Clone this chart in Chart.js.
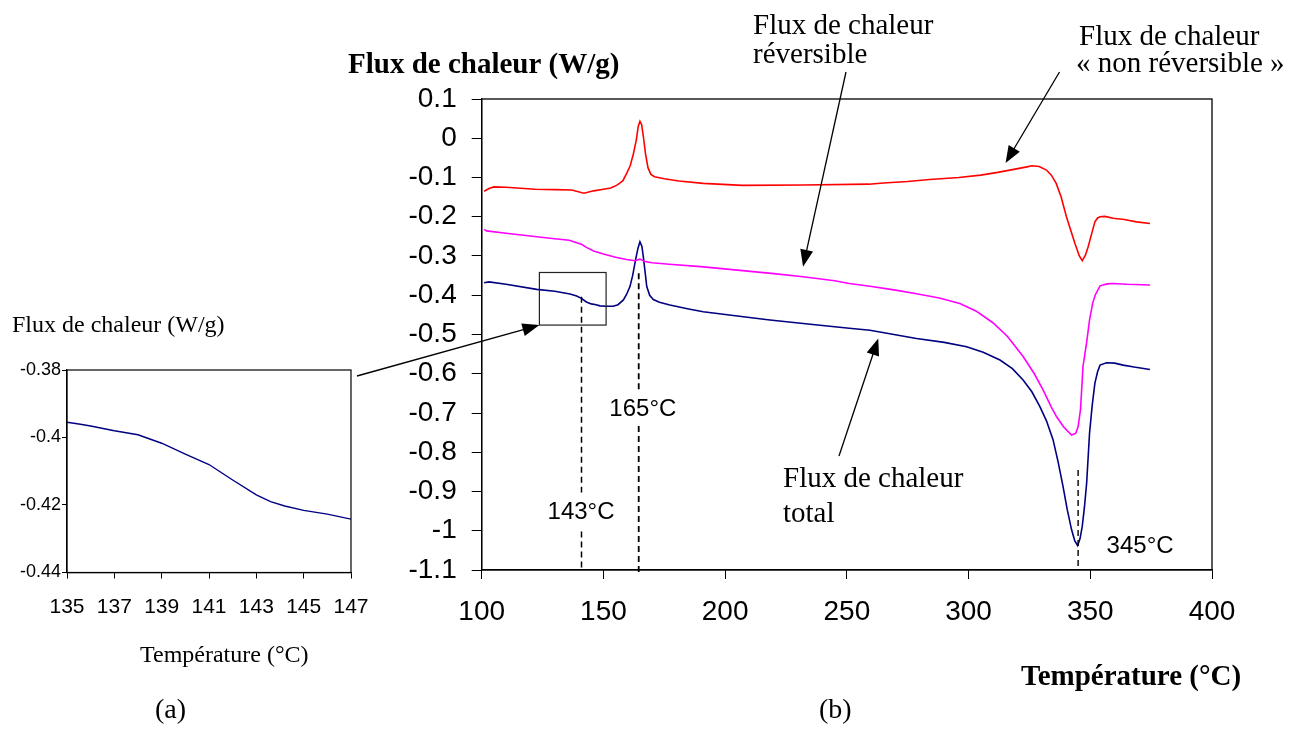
<!DOCTYPE html>
<html>
<head>
<meta charset="utf-8">
<script src="https://cdn.jsdelivr.net/npm/chart.js@4.4.0/dist/chart.umd.min.js"></script>
<style>
  html, body { margin: 0; padding: 0; background: #fff; }
  #wrap { position: relative; width: 1306px; height: 731px; }
  #wrap canvas { position: absolute; left: 0; top: 0; }
</style>
</head>
<body>
<div id="wrap">
  <canvas id="mainChart" width="1306" height="731"></canvas>
  <canvas id="insetChart" width="1306" height="731"></canvas>
</div>
<script>
// flux "non réversible" (rouge)
const nonRevT = [101, 103, 105, 110, 122, 130, 137, 142, 146, 150, 153, 155.4, 157, 158, 159.5, 161, 162.3, 163.5, 164.3, 165, 165.7, 166.5, 167.3, 168.3, 169.5, 171, 175, 181, 191, 207, 232, 259, 265, 275, 284, 296, 305, 312, 318, 324, 326, 329, 332, 334, 336, 338, 340.2, 342, 343.7, 345.5, 346.7, 348, 349.1, 350.5, 351.9, 353, 354, 356, 359.4, 364, 369, 374.5];
const nonRevF = [-0.135, -0.128, -0.124, -0.125, -0.130, -0.131, -0.132, -0.140, -0.134, -0.130, -0.127, -0.120, -0.113, -0.108, -0.090, -0.070, -0.040, -0.005, 0.030, 0.043, 0.035, 0.000, -0.040, -0.075, -0.092, -0.098, -0.103, -0.109, -0.115, -0.120, -0.119, -0.117, -0.114, -0.110, -0.105, -0.100, -0.094, -0.087, -0.080, -0.073, -0.070, -0.072, -0.081, -0.094, -0.115, -0.149, -0.200, -0.235, -0.268, -0.300, -0.312, -0.298, -0.277, -0.245, -0.213, -0.203, -0.200, -0.199, -0.204, -0.207, -0.213, -0.217];

// flux réversible (magenta)
const revT = [101, 102, 110, 122.6, 130, 136, 139, 141, 143, 146, 150, 155, 159.5, 163, 165, 167, 170, 177, 190, 205, 220, 232, 245, 251, 259.5, 270, 278.6, 288, 296.4, 303, 310, 316, 322.4, 327, 330.6, 334, 336.1, 339, 342.3, 344, 345, 346, 347, 348.5, 349.7, 351, 352, 354, 357, 359.4, 365, 374.5];
const revF = [-0.232, -0.236, -0.242, -0.251, -0.256, -0.260, -0.266, -0.270, -0.278, -0.287, -0.295, -0.303, -0.309, -0.312, -0.308, -0.314, -0.317, -0.321, -0.327, -0.336, -0.345, -0.353, -0.363, -0.370, -0.377, -0.387, -0.396, -0.407, -0.421, -0.440, -0.470, -0.505, -0.556, -0.600, -0.641, -0.685, -0.709, -0.735, -0.756, -0.752, -0.735, -0.690, -0.582, -0.520, -0.463, -0.420, -0.400, -0.376, -0.371, -0.370, -0.372, -0.374];

// flux total (bleu)
const totT = [101, 103, 110, 122.6, 130, 136.3, 139, 141, 143, 145, 147, 148.6, 151, 154, 156, 158.2, 159.5, 160.9, 162, 163.2, 164.2, 165, 165.8, 166.4, 167.2, 167.8, 169, 170.5, 173, 177.3, 185, 191, 205, 218.4, 235, 251, 259.5, 278.6, 290, 299.2, 306, 312.9, 318, 322.4, 326, 329.3, 332, 334.7, 336.8, 338.8, 340.5, 342.3, 343.6, 344.8, 345.8, 346.7, 347.6, 348.5, 349.7, 350.8, 351.9, 353, 354, 356.7, 360, 363.5, 368, 374.5];
const totF = [-0.368, -0.366, -0.372, -0.385, -0.390, -0.397, -0.402, -0.408, -0.417, -0.422, -0.424, -0.427, -0.428, -0.428, -0.424, -0.412, -0.398, -0.378, -0.350, -0.310, -0.280, -0.264, -0.275, -0.302, -0.345, -0.378, -0.400, -0.411, -0.418, -0.425, -0.435, -0.442, -0.453, -0.463, -0.474, -0.484, -0.489, -0.510, -0.520, -0.531, -0.545, -0.565, -0.587, -0.616, -0.646, -0.684, -0.720, -0.768, -0.825, -0.887, -0.945, -0.997, -1.025, -1.038, -1.020, -0.989, -0.940, -0.879, -0.751, -0.680, -0.624, -0.595, -0.578, -0.572, -0.573, -0.578, -0.583, -0.589];

// agrandissement (a)
const insetT = [135, 135.5, 136, 137, 138, 139, 140, 141, 142, 143, 143.6, 144.2, 145, 146, 147];
const insetF = [-0.3955, -0.396, -0.3966, -0.398, -0.3992, -0.4017, -0.4049, -0.408, -0.4126, -0.417, -0.419, -0.4203, -0.4216, -0.4227, -0.4242];

// repères
const markT = [141, 164.5, 345];
const markLabels = ["143°C", "165°C", "345°C"];

const serif = '"Liberation Serif", "Times New Roman", serif';
const sans = '"Liberation Sans", Arial, sans-serif';

const pts = (xs, ys) => xs.map((x, i) => ({ x, y: ys[i] }));

function arrow(ctx, x1, y1, x2, y2) {
  const a = Math.atan2(y2 - y1, x2 - x1), len = 17, w = 6.5;
  ctx.beginPath();
  ctx.moveTo(x1, y1);
  ctx.lineTo(x2 - Math.cos(a) * len * 0.7, y2 - Math.sin(a) * len * 0.7);
  ctx.stroke();
  ctx.beginPath();
  ctx.moveTo(x2, y2);
  ctx.lineTo(x2 - len * Math.cos(a) + w * Math.sin(a), y2 - len * Math.sin(a) - w * Math.cos(a));
  ctx.lineTo(x2 - len * Math.cos(a) - w * Math.sin(a), y2 - len * Math.sin(a) + w * Math.cos(a));
  ctx.closePath();
  ctx.fill();
}

function vdash(ctx, x, y1, y2) {
  ctx.beginPath();
  ctx.moveTo(x, y1);
  ctx.lineTo(x, y2);
  ctx.stroke();
}

const labels = [
  { t: "Flux de chaleur (W/g)", x: 348, y: 73, f: "bold 29px " + serif },
  { t: "Température (°C)", x: 1021, y: 685, f: "bold 29px " + serif },
  { t: "(b)", x: 819, y: 718, f: "28px " + serif },
  { t: "(a)", x: 155, y: 718, f: "28px " + serif },
  { t: "Flux de chaleur (W/g)", x: 12, y: 332, f: "24px " + serif },
  { t: "Température (°C)", x: 140, y: 662, f: "24px " + serif },
  { t: "Flux de chaleur", x: 753, y: 34, f: "29px " + serif },
  { t: "réversible", x: 753, y: 63, f: "29px " + serif },
  { t: "Flux de chaleur", x: 1079, y: 45, f: "29px " + serif },
  { t: "« non réversible »", x: 1076, y: 72, f: "29px " + serif },
  { t: "Flux de chaleur", x: 783, y: 487, f: "29px " + serif },
  { t: "total", x: 783, y: 522, f: "29px " + serif }
];

const mainDecor = {
  id: "mainDecor",
  afterDatasetsDraw(chart) {
    const { ctx, chartArea: a, scales: { x, y } } = chart;
    ctx.save();
    ctx.strokeStyle = "#000";
    ctx.fillStyle = "#000";
    ctx.lineWidth = 1.3;
    ctx.strokeRect(a.left, a.top, a.right - a.left, a.bottom - a.top);

    // cadre du zoom
    ctx.lineWidth = 1.2;
    ctx.strokeStyle = "#222";
    const bx1 = x.getPixelForValue(123.7), bx2 = x.getPixelForValue(151.1);
    const by1 = y.getPixelForValue(-0.342), by2 = y.getPixelForValue(-0.476);
    ctx.strokeRect(bx1, by1, bx2 - bx1, by2 - by1);

    // lignes pointillées
    ctx.strokeStyle = "#000";
    ctx.lineWidth = 1.5;
    ctx.setLineDash([6, 4]);
    let px = x.getPixelForValue(markT[0]);
    vdash(ctx, px, y.getPixelForValue(-0.404), y.getPixelForValue(-0.9025));
    vdash(ctx, px, y.getPixelForValue(-1.002), a.bottom);
    px = x.getPixelForValue(markT[1]);
    ctx.lineWidth = 1.8;
    vdash(ctx, px, y.getPixelForValue(-0.344), y.getPixelForValue(-0.641));
    vdash(ctx, px, y.getPixelForValue(-0.733), a.bottom + 4);
    px = x.getPixelForValue(markT[2]);
    ctx.lineWidth = 1.4;
    vdash(ctx, px, y.getPixelForValue(-0.845), a.bottom);
    ctx.setLineDash([]);

    ctx.font = "24px " + sans;
    ctx.textBaseline = "middle";
    ctx.textAlign = "center";
    ctx.fillText(markLabels[0], x.getPixelForValue(140.8), y.getPixelForValue(-0.952));
    ctx.fillText(markLabels[1], x.getPixelForValue(166.2), y.getPixelForValue(-0.692));
    ctx.textAlign = "left";
    ctx.fillText(markLabels[2], x.getPixelForValue(356.7), y.getPixelForValue(-1.04));

    // flèches
    ctx.lineWidth = 1.3;
    arrow(ctx, 846, 72, x.getPixelForValue(232), y.getPixelForValue(-0.3275));
    arrow(ctx, 1059.5, 72, x.getPixelForValue(315.2), y.getPixelForValue(-0.063));
    arrow(ctx, 839, 456, x.getPixelForValue(262.9), y.getPixelForValue(-0.51));
    arrow(ctx, 357, 376, bx1, by2);

    // textes
    ctx.textBaseline = "alphabetic";
    ctx.textAlign = "left";
    labels.forEach(l => {
      ctx.font = l.f;
      ctx.fillText(l.t, l.x, l.y);
    });
    ctx.restore();
  }
};

const boxFrame = {
  id: "boxFrame",
  afterDatasetsDraw(chart) {
    const { ctx, chartArea: a } = chart;
    ctx.save();
    ctx.strokeStyle = "#000";
    ctx.lineWidth = 1.2;
    ctx.strokeRect(a.left, a.top, a.right - a.left, a.bottom - a.top);
    ctx.restore();
  }
};

const mainChart = new Chart(document.getElementById("mainChart"), {
  type: "line",
  data: {
    datasets: [
      { label: "Flux de chaleur « non réversible »", data: pts(nonRevT, nonRevF), borderColor: "#ff0000" },
      { label: "Flux de chaleur réversible", data: pts(revT, revF), borderColor: "#ff00ff" },
      { label: "Flux de chaleur total", data: pts(totT, totF), borderColor: "#000080" }
    ]
  },
  options: {
    responsive: false,
    animation: false,
    elements: { line: { borderWidth: 1.6, tension: 0 }, point: { radius: 0 } },
    layout: { padding: { left: 380, top: 99, right: 94, bottom: 101 } },
    plugins: { legend: { display: false }, tooltip: { enabled: false } },
    scales: {
      x: {
        type: "linear", min: 100, max: 400,
        afterFit(s) { s.height = 60; },
        ticks: { stepSize: 50, color: "#000", padding: 16, font: { family: sans, size: 28 } },
        grid: { drawOnChartArea: false, tickLength: 9, color: "#000" },
        border: { color: "#000", width: 1.3 }
      },
      y: {
        min: -1.1, max: 0.1,
        afterFit(s) { s.width = 101.7; },
        ticks: {
          stepSize: 0.1, color: "#000", padding: 15, font: { family: sans, size: 28 },
          callback: v => String(+v.toFixed(1))
        },
        grid: { drawOnChartArea: false, tickLength: 10, color: "#000" },
        border: { color: "#000", width: 1.3 }
      }
    }
  },
  plugins: [mainDecor]
});

const insetChart = new Chart(document.getElementById("insetChart"), {
  type: "line",
  data: {
    datasets: [
      { label: "Flux de chaleur total", data: pts(insetT, insetF), borderColor: "#000080", borderWidth: 1.4 }
    ]
  },
  options: {
    responsive: false,
    animation: false,
    elements: { line: { tension: 0 }, point: { radius: 0 } },
    layout: { padding: { left: 0, top: 370, right: 955, bottom: 98 } },
    plugins: { legend: { display: false }, tooltip: { enabled: false } },
    scales: {
      x: {
        type: "linear", min: 135, max: 147,
        afterFit(s) { s.height = 60.5; },
        ticks: { stepSize: 2, color: "#000", padding: 16, font: { family: sans, size: 21 } },
        grid: { drawOnChartArea: false, tickLength: 6, color: "#000" },
        border: { color: "#000", width: 1.2 }
      },
      y: {
        min: -0.44, max: -0.38,
        afterFit(s) { s.width = 67; },
        ticks: {
          stepSize: 0.02, color: "#000", padding: 1, font: { family: sans, size: 18 },
          callback: v => String(+v.toFixed(2))
        },
        grid: { drawOnChartArea: false, tickLength: 5, color: "#000" },
        border: { color: "#000", width: 1.2 }
      }
    }
  },
  plugins: [boxFrame]
});
</script>
</body>
</html>
